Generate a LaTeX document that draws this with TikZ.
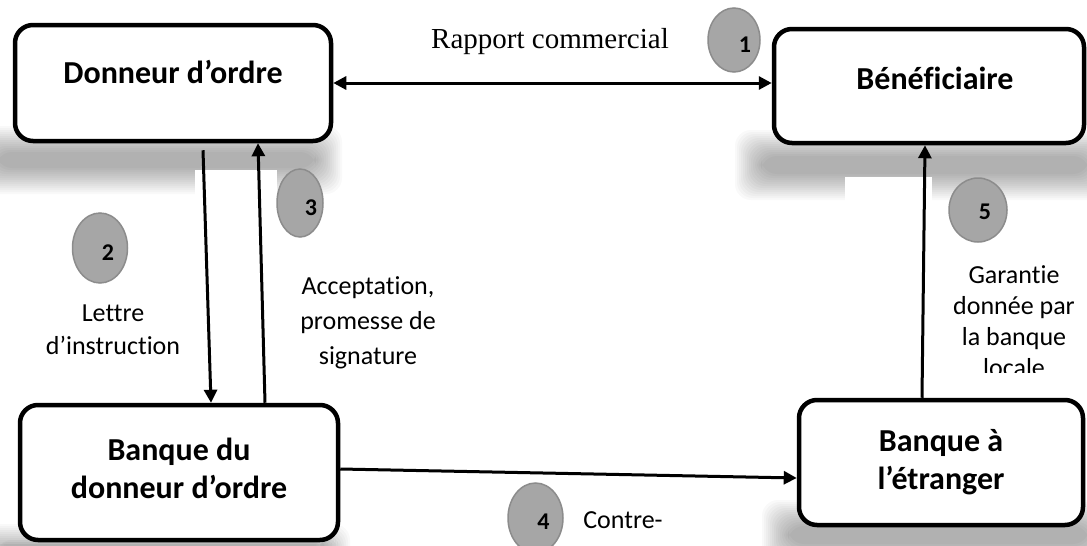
\documentclass[tikz,border=0pt]{standalone}
\usepackage{fontspec}
\setmainfont{Carlito}[RawFeature={-liga}]
\newfontfamily\timesf{Liberation Serif}
\usetikzlibrary{arrows.meta,shapes.geometric}
\newcommand\softsh[4]{%
  \foreach \i in {0,...,13}{%
    \fill[black, opacity=0.022, rounded corners=16pt]
      ({#1+2*\i},{#2+2*\i}) rectangle ({#3-2*\i},{#4-2*\i});
  }}
\begin{document}
\begin{tikzpicture}[x=1pt,y=-1pt,
  box/.style={draw, line width=4.5pt, rounded corners=18pt, fill=white, inner sep=0pt},
  boxlbl/.style={font=\bfseries\fontsize{32}{38}\selectfont, align=center, inner sep=0pt},
  arr/.style={line width=3pt, -{Triangle[length=13pt,width=13pt]}},
  darr/.style={line width=3pt, {Triangle[length=13pt,width=13pt]}-{Triangle[length=13pt,width=13pt]}},
  num/.style={ellipse, draw=black!45, line width=1.5pt, fill=black!35, inner sep=0pt},
  numlbl/.style={font=\bfseries\fontsize{24}{28}\selectfont, inner sep=0pt},
  txt/.style={font=\fontsize{26}{33}\selectfont, align=center, inner sep=0pt},
  cover/.style={fill=white, draw=none}
]
\useasboundingbox (0,0) rectangle (1087,546);
\fill[white] (0,0) rectangle (1087,546);

% soft shadows under the boxes
\softsh{-30}{126}{342}{194}
\softsh{735}{130}{1115}{200}
\softsh{-30}{524}{350}{566}
\softsh{762}{500}{1115}{570}

% boxes
\node[box, minimum width=316pt, minimum height=116pt,
  label={[boxlbl, yshift=11pt]center:Donneur d’ordre}] (donneur) at (173,83) {};
\node[box, minimum width=310pt, minimum height=114pt,
  label={[boxlbl, xshift=6pt, yshift=8pt]center:Bénéficiaire}] (benef) at (929,86) {};
\node[box, minimum width=318pt, minimum height=135pt,
  label={[boxlbl, yshift=4pt]center:Banque du\\donneur d’ordre}] (banqueD) at (179,472.5) {};
\node[box, minimum width=284pt, minimum height=125pt,
  label={[boxlbl]center:Banque à\\l’étranger}] (banqueE) at (941,462.5) {};

% white label areas cutting the shadows
\path[cover] (195,170) rectangle (277,215);
\path[cover] (845,177) rectangle (932,230);

% connectors
\draw[darr] (donneur.east) -- (donneur.east -| benef.west);
\draw[arr] ([xshift=30pt,yshift=-7pt]donneur.south) -- ([xshift=32pt]banqueD.north);
\draw[arr] ([xshift=86pt]banqueD.north) -- ([xshift=85pt]donneur.south);
\draw[arr] ([yshift=3.5pt]banqueD.east) -- ([yshift=-15.5pt]banqueE.west);
\draw[arr] ([xshift=-19pt]banqueE.north) -- ([xshift=-4pt]benef.south);

% numbered ellipses
\node[num, minimum width=52pt, minimum height=64pt,
  label={[numlbl, xshift=11pt, yshift=-5pt]center:1}] (n1) at (734,40) {};
\node[num, minimum width=55pt, minimum height=70pt,
  label={[numlbl, xshift=8pt, yshift=-5pt]center:2}] (n2) at (100,248) {};
\node[num, minimum width=46pt, minimum height=68pt,
  label={[numlbl, xshift=11pt, yshift=-5pt]center:3}] (n3) at (300,203) {};
\node[num, minimum width=55pt, minimum height=70pt,
  label={[numlbl, xshift=8pt, yshift=-4pt]center:4}] (n4) at (535.5,518) {};
\node[num, minimum width=58pt, minimum height=64pt,
  label={[numlbl, xshift=7pt, yshift=-2pt]center:5}] (n5) at (978,210) {};

% labels
\node[font=\timesf\fontsize{29}{34}\selectfont, inner sep=0pt, anchor=base] (rc) at (550,48) {Rapport commercial};
\node[txt] (l2) at (113,330) {Lettre\\d’instruction};
\node[txt, font=\fontsize{26}{35}\selectfont] (l3) at (368,323) {Acceptation,\\promesse de\\signature};
\begin{scope}
  \clip (935,250) rectangle (1087,372);
  \node[txt, font=\fontsize{26}{31}\selectfont] (l5) at (1014,321) {Garantie\\donnée par\\la banque\\locale};
\end{scope}
\node[txt] (l4) at (623,520) {Contre-};
\end{tikzpicture}
\end{document}
